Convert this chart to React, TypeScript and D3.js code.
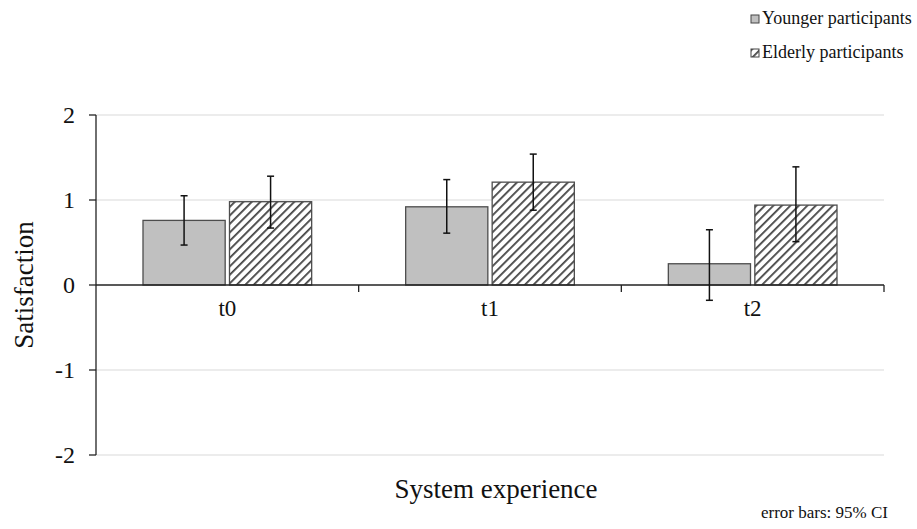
import React from 'react';
import * as d3 from 'd3';

const categories = ['t0', 't1', 't2'];
const groups = ['Younger participants', 'Elderly participants'];
const younger = [0.76, 0.92, 0.25];
const elderly = [0.98, 1.21, 0.94];
const youngerCI = [[0.47, 1.05], [0.61, 1.24], [-0.18, 0.65]];
const elderlyCI = [[0.67, 1.28], [0.88, 1.54], [0.51, 1.39]];
const yTicks = [-2, -1, 0, 1, 2];

const W = 917;
const H = 529;
const FONT = 'Liberation Serif';
const margin = { top: 115, right: 33, bottom: 74, left: 96 };

const T = (props: any) => <text fontFamily={FONT} fill="#111" {...props} />;

const App = () => {
  const x0 = d3.scaleBand<string>()
    .domain(categories)
    .range([margin.left, W - margin.right]);
  const x1 = d3.scaleBand<string>()
    .domain(groups)
    .range([47, x0.bandwidth() - 47])
    .paddingInner(0.05);
  const y = d3.scaleLinear().domain([-2, 2]).range([H - margin.bottom, margin.top]);

  const rows = categories.map((c, i) => ({
    cat: c,
    vals: [
      { g: groups[0], v: younger[i], ci: youngerCI[i] },
      { g: groups[1], v: elderly[i], ci: elderlyCI[i] },
    ],
  }));
  const fills = ['#c0c0c0', 'url(#hatch)'];
  const axisColor = '#222';

  return (
    <svg
      width={W}
      height={H}
      style={{ position: 'absolute', left: 0, top: 0, background: 'white' }}
    >
      <defs>
        <pattern id="hatch" patternUnits="userSpaceOnUse" width={6} height={6} patternTransform="rotate(45)">
          <rect width={6} height={6} fill="white" />
          <line x1={0} y1={0} x2={0} y2={6} stroke="#444" strokeWidth={3.6} />
        </pattern>
      </defs>

      {/* gridlines */}
      {yTicks.filter(d => d !== 0).map(d => (
        <line key={d} x1={margin.left} x2={W - margin.right} y1={y(d)} y2={y(d)} stroke="#d9d9d9" strokeWidth={1} />
      ))}

      {/* bars */}
      {rows.map(r => (
        <g key={r.cat} transform={`translate(${x0(r.cat)},0)`}>
          {r.vals.map((d, i) => (
            <rect
              key={d.g}
              x={x1(d.g)}
              y={y(Math.max(0, d.v))}
              width={x1.bandwidth()}
              height={Math.abs(y(d.v) - y(0))}
              fill={fills[i]}
              stroke="#4d4d4d"
              strokeWidth={1.3}
            />
          ))}
        </g>
      ))}

      {/* x axis */}
      <line x1={margin.left} x2={W - margin.right} y1={y(0)} y2={y(0)} stroke={axisColor} strokeWidth={1.3} />
      {categories.map(c => {
        const xe = x0(c)! + x0.bandwidth();
        return <line key={c} x1={xe} x2={xe} y1={y(0)} y2={y(0) + 7} stroke={axisColor} strokeWidth={1.3} />;
      })}
      {categories.map(c => (
        <T key={c} x={x0(c)! + x0.bandwidth() / 2} y={y(0) + 31} textAnchor="middle" fontSize={23}>
          {c}
        </T>
      ))}

      {/* error bars */}
      {rows.map(r => (
        <g key={r.cat} transform={`translate(${x0(r.cat)},0)`} stroke="#111" strokeWidth={1.5}>
          {r.vals.map(d => {
            const cx = x1(d.g)! + x1.bandwidth() / 2;
            return (
              <g key={d.g}>
                <line x1={cx} x2={cx} y1={y(d.ci[0])} y2={y(d.ci[1])} />
                <line x1={cx - 3.5} x2={cx + 3.5} y1={y(d.ci[0])} y2={y(d.ci[0])} />
                <line x1={cx - 3.5} x2={cx + 3.5} y1={y(d.ci[1])} y2={y(d.ci[1])} />
              </g>
            );
          })}
        </g>
      ))}

      {/* y axis */}
      <line x1={margin.left} x2={margin.left} y1={y(-2)} y2={y(2)} stroke={axisColor} strokeWidth={1.3} />
      {yTicks.map(t => (
        <g key={t}>
          <line x1={margin.left - 7} x2={margin.left} y1={y(t)} y2={y(t)} stroke={axisColor} strokeWidth={1.3} />
          <T x={margin.left - 21} y={y(t)} dy="0.33em" textAnchor="end" fontSize={24}>
            {String(t)}
          </T>
        </g>
      ))}

      {/* axis titles */}
      <T transform={`translate(33,${y(0)}) rotate(-90)`} textAnchor="middle" fontSize={27}>
        Satisfaction
      </T>
      <T x={(margin.left + W - margin.right) / 2 + 6} y={498} textAnchor="middle" fontSize={27}>
        System experience
      </T>
      <T x={888} y={518} textAnchor="end" fontSize={17}>
        error bars: 95% CI
      </T>

      {/* legend */}
      {groups.map((g, i) => (
        <g key={g} transform={`translate(751,${15 + i * 34})`}>
          <rect width={8} height={8} fill={fills[i]} stroke="#444" strokeWidth={1} />
          <T x={11} y={9} fontSize={18}>
            {g}
          </T>
        </g>
      ))}
    </svg>
  );
};

export default App;
